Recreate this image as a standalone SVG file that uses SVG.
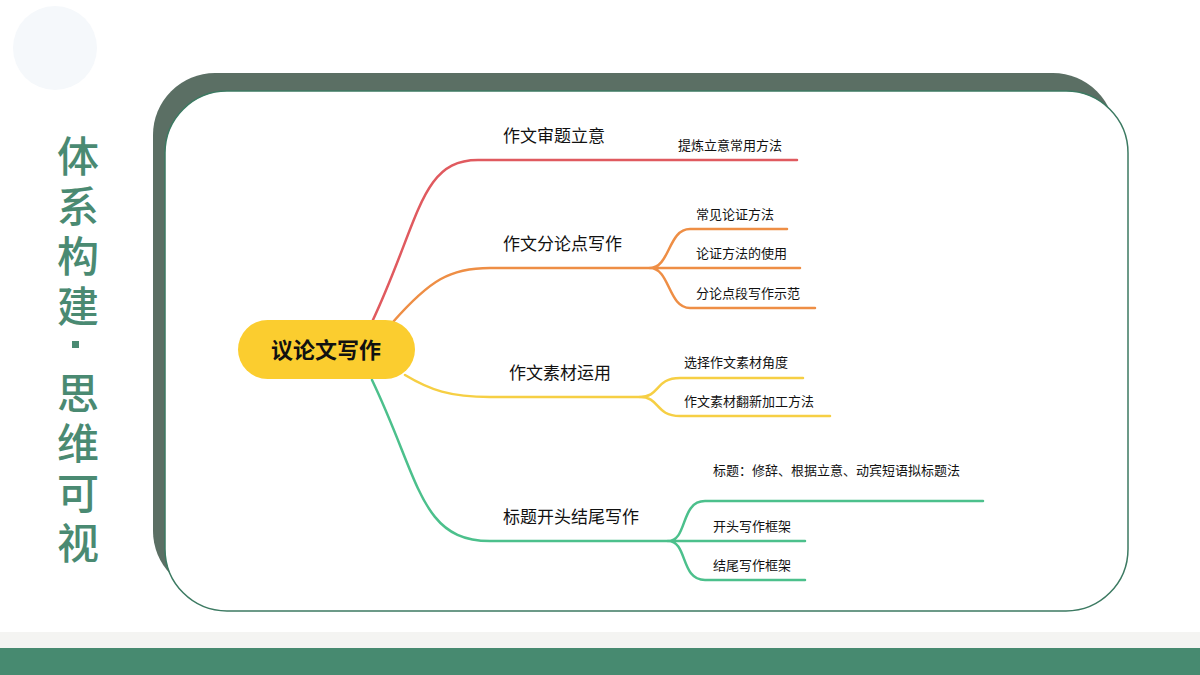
<svg xmlns="http://www.w3.org/2000/svg" width="1200" height="675" viewBox="0 0 1200 675">
<style>
text{font-family:"Noto Sans CJK SC","Noto Sans",sans-serif;fill:#111}
.b{font-size:17px}.s{font-size:13px}
.c{fill:none;stroke-width:2.5;stroke-linecap:round}
.t{font-size:42px;fill:#4a8a72;font-weight:500}
</style>
<rect width="1200" height="675" fill="#fff"/>
<circle cx="55" cy="48" r="42" fill="#f5f8fb"/>
<rect x="0" y="632" width="1200" height="16" fill="#f4f4f2"/>
<rect x="0" y="648" width="1200" height="27" fill="#478a70"/>
<g id="title">
<text class="t" x="78" y="172" text-anchor="middle">体</text>
<text class="t" x="78" y="222" text-anchor="middle">系</text>
<text class="t" x="78" y="272" text-anchor="middle">构</text>
<text class="t" x="78" y="322" text-anchor="middle">建</text>
<rect x="72" y="341" width="7" height="7" fill="#4a8a72"/>
<text class="t" x="78" y="409" text-anchor="middle">思</text>
<text class="t" x="78" y="459" text-anchor="middle">维</text>
<text class="t" x="78" y="509" text-anchor="middle">可</text>
<text class="t" x="78" y="559" text-anchor="middle">视</text>
</g>
<rect x="153" y="73" width="962" height="520" rx="62" fill="#5b6f64"/>
<rect x="165" y="91" width="963" height="520" rx="62" fill="#fff" stroke="#3c7a62" stroke-width="1.5"/>
<g id="connectors">
<path class="c" stroke="#e05a5f" d="M372,322 C420,220 420,160 478,160 L797,160"/>
<path class="c" stroke="#ee8e45" d="M393,322 C430,280 450,268 490,268 L650,268"/>
<path class="c" stroke="#ee8e45" d="M650,268 C670,268 668,229 690,229 L787,229 M650,268 L800,268 M650,268 C670,268 668,308 690,308 L815,308"/>
<path class="c" stroke="#f6cf44" d="M405,375 C430,390 450,397 490,397 L640,397"/>
<path class="c" stroke="#f6cf44" d="M640,397 C660,397 655,378 680,378 L803,378 M640,397 C660,397 655,416 680,416 L830,416"/>
<path class="c" stroke="#4cc08c" d="M372,380 C420,480 420,541 490,541 L668,541"/>
<path class="c" stroke="#4cc08c" d="M668,541 C688,541 680,501 705,501 L983,501 M668,541 L805,541 M668,541 C688,541 680,580 705,580 L805,580"/>
</g>
<g id="root"><rect x="238" y="320" width="177" height="59" rx="29.5" fill="#fbcd2f"/>
<text x="326" y="358" font-size="22" font-weight="bold" text-anchor="middle">议论文写作</text></g>
<g id="n1"><text class="b" x="503" y="142">作文审题立意</text></g>
<g id="n1a"><text class="s" x="678" y="150">提炼立意常用方法</text></g>
<g id="n2"><text class="b" x="503" y="250">作文分论点写作</text></g>
<g id="n2a"><text class="s" x="696" y="219">常见论证方法</text></g>
<g id="n2b"><text class="s" x="696" y="258">论证方法的使用</text></g>
<g id="n2c"><text class="s" x="696" y="298">分论点段写作示范</text></g>
<g id="n3"><text class="b" x="509" y="379">作文素材运用</text></g>
<g id="n3a"><text class="s" x="684" y="367">选择作文素材角度</text></g>
<g id="n3b"><text class="s" x="684" y="406">作文素材翻新加工方法</text></g>
<g id="n4"><text class="b" x="503" y="523">标题开头结尾写作</text></g>
<g id="n4a"><text class="s" x="713" y="475">标题：修辞、根据立意、动宾短语拟标题法</text></g>
<g id="n4b"><text class="s" x="713" y="531">开头写作框架</text></g>
<g id="n4c"><text class="s" x="713" y="570">结尾写作框架</text></g>
</svg>
